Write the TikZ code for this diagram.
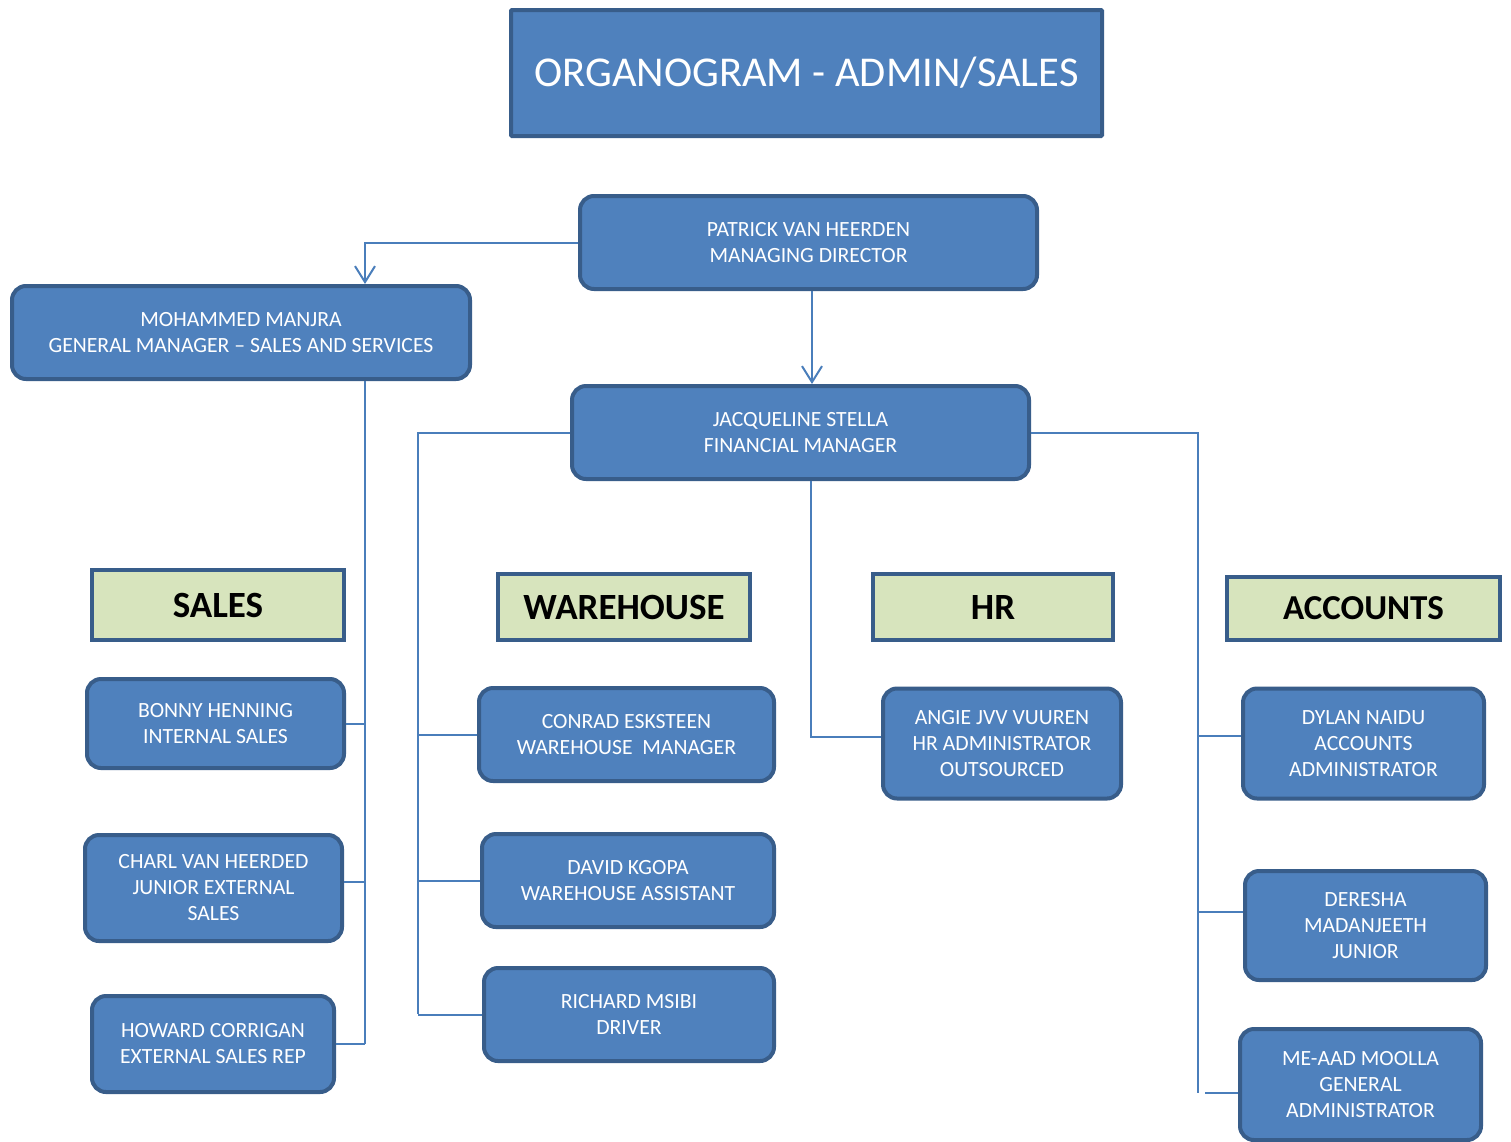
\documentclass[tikz,border=0pt]{standalone}
\usepackage{fontspec}
\setmainfont{Carlito}
\usetikzlibrary{arrows.meta}
\definecolor{boxfill}{HTML}{4F81BD}
\definecolor{boxline}{HTML}{385D8A}
\definecolor{hdrfill}{HTML}{D7E4BD}
\definecolor{conn}{HTML}{4A7EBB}
\begin{document}
\begin{tikzpicture}[x=1pt,y=-1pt,
 person/.style={draw=boxline, line width=4pt, fill=boxfill, rounded corners=14pt, text=white, align=center, font=\fontsize{21.7}{26}\selectfont, inner sep=0pt},
 header/.style={draw=boxline, line width=4pt, fill=hdrfill, text=black, font=\fontsize{37}{42}\selectfont\bfseries, inner sep=0pt},
 titlebox/.style={draw=boxline, line width=4pt, fill=boxfill, text=white, font=\fontsize{42.5}{50}\selectfont, inner sep=0pt, rounded corners=1pt},
 link/.style={draw=conn, line width=2pt},
 arr/.style={-{Straight Barb[length=16pt,width=20pt,line width=2pt]}}
]
\useasboundingbox (0,0) rectangle (1511,1141);
\fill[white] (0,0) rectangle (1511,1141);

\node[titlebox, minimum width=591pt, minimum height=126pt] (title) at (806.5,73) {ORGANOGRAM - ADMIN/SALES};

\node[person, minimum width=457pt, minimum height=93pt] (pat) at (808.5,242.5) {PATRICK VAN HEERDEN\\MANAGING DIRECTOR};
\node[person, minimum width=458pt, minimum height=93pt] (mgr) at (241,332.5) {MOHAMMED MANJRA\\GENERAL MANAGER – SALES AND SERVICES};
\node[person, minimum width=457pt, minimum height=93pt] (jac) at (800.5,432.5) {JACQUELINE STELLA\\FINANCIAL MANAGER};

\node[header, minimum width=252pt, minimum height=70pt] (hsales) at (218,605) {SALES};
\node[header, minimum width=252pt, minimum height=66pt] (hware) at (624,607) {WAREHOUSE};
\node[header, minimum width=240pt, minimum height=66pt] (hhr) at (993,607) {HR};
\node[header, minimum width=273pt, minimum height=63pt, font=\fontsize{35}{40}\selectfont\bfseries] (hacc) at (1363.5,608.5) {ACCOUNTS};

\node[person, minimum width=257pt, minimum height=89pt] (bon) at (215.5,723.5) {BONNY HENNING\\INTERNAL SALES};
\node[person, minimum width=257pt, minimum height=106pt] (cha) at (213.5,888) {CHARL VAN HEERDED\\JUNIOR EXTERNAL\\SALES};
\node[person, minimum width=242pt, minimum height=96pt] (how) at (213,1044) {HOWARD CORRIGAN\\EXTERNAL SALES REP};

\node[person, minimum width=295pt, minimum height=93pt] (con) at (626.5,734.5) {CONRAD ESKSTEEN\\WAREHOUSE\ \ MANAGER};
\node[person, minimum width=292pt, minimum height=93pt] (dav) at (628,880.5) {DAVID KGOPA\\WAREHOUSE ASSISTANT};
\node[person, minimum width=290pt, minimum height=93pt] (ric) at (629,1014.5) {RICHARD MSIBI\\DRIVER};

\node[person, minimum width=238pt, minimum height=110pt] (ang) at (1002,743.5) {ANGIE JVV VUUREN\\HR ADMINISTRATOR\\OUTSOURCED};

\node[person, minimum width=241pt, minimum height=110pt] (dyl) at (1363.5,743.5) {DYLAN NAIDU\\ACCOUNTS\\ADMINISTRATOR};
\node[person, minimum width=241pt, minimum height=109pt] (der) at (1365.5,925.5) {DERESHA\\MADANJEETH\\JUNIOR};
\node[person, minimum width=241pt, minimum height=111pt] (mea) at (1360.5,1084.5) {ME-AAD MOOLLA\\GENERAL\\ADMINISTRATOR};

\coordinate (mx) at (365,0);
\coordinate (jx) at (812,0);
\coordinate (jl) at (418,0);
\coordinate (jr) at (1198,0);
\coordinate (mend) at (365,1044);
\coordinate (jlend) at (418,1014);
\coordinate (jrend) at (1198,1093);

% top-level arrows
\draw[link,arr] (pat.west) -| (mgr.north -| mx);
\draw[link,arr] (pat.south -| jx) -- (jac.north -| jx);

% sales trunk
\draw[link] (mgr.south -| mx) -- (mend);
\draw[link] (bon.east) -- (bon.east -| mx);
\draw[link] (cha.east |- 0,882) -- (mx |- 0,882);
\draw[link] (how.east) -- (how.east -| mx);

% warehouse trunk
\draw[link] (jac.west) -| (jlend);
\draw[link] (con.west) -- (con.west -| jl);
\draw[link] (dav.west) -- (dav.west -| jl);
\draw[link] (ric.west) -- (ric.west -| jl);

% HR
\draw[link] (jac.south -| 811,0) |- (ang.west |- 0,737);

% accounts trunk
\draw[link] (jac.east) -| (jrend);
\draw[link] (dyl.west |- 0,736) -- (jr |- 0,736);
\draw[link] (der.west |- 0,912) -- (jr |- 0,912);
\draw[link] (mea.west |- 0,1093) -- (1205,1093);
\end{tikzpicture}
\end{document}
